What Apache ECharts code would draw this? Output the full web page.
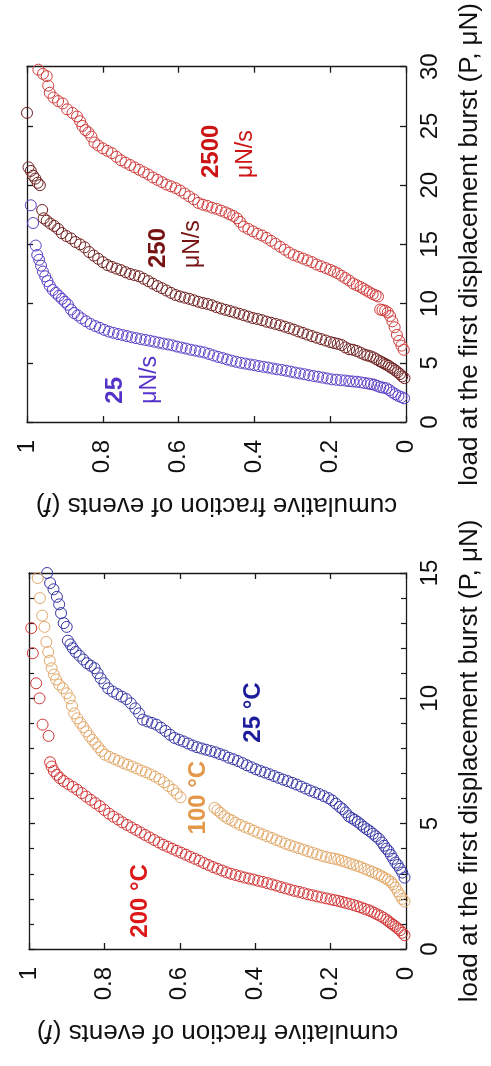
<!DOCTYPE html>
<html><head><meta charset="utf-8">
<script src="https://cdn.jsdelivr.net/npm/echarts@6/dist/echarts.min.js"></script>
<style>html,body{margin:0;padding:0;background:#fff}#c{width:491px;height:1066px}</style>
</head><body><div id="c"></div>
<script>
// ---------- Top panel: loading rate ----------
const frac25uN = [0.005,0.012,0.02,0.028,0.036,0.044,0.052,0.06,0.068,0.076,0.084,0.092,0.1,0.11,0.12,0.13,0.14,0.15,0.16,0.172,0.184,0.196,0.208,0.22,0.232,0.244,0.256,0.268,0.28,0.292,0.304,0.316,0.328,0.34,0.352,0.364,0.376,0.388,0.4,0.412,0.424,0.436,0.448,0.46,0.472,0.484,0.496,0.508,0.52,0.532,0.544,0.556,0.568,0.58,0.592,0.604,0.616,0.628,0.64,0.652,0.664,0.676,0.688,0.7,0.712,0.724,0.736,0.748,0.76,0.772,0.784,0.796,0.808,0.82,0.832,0.844,0.856,0.866,0.876,0.884,0.892,0.9,0.908,0.916,0.924,0.932,0.94,0.946,0.952,0.958,0.963,0.968,0.973,0.977,0.984,0.99];
const load25uN = [2.0,2.1,2.2,2.35,2.5,2.7,2.85,2.9,2.95,3.05,3.15,3.2,3.25,3.3,3.35,3.4,3.42,3.45,3.5,3.53,3.57,3.6,3.68,3.75,3.82,3.88,3.95,4.03,4.1,4.17,4.25,4.33,4.4,4.45,4.52,4.6,4.66,4.72,4.8,4.86,4.93,5.0,5.08,5.18,5.28,5.4,5.5,5.62,5.75,5.87,5.95,6.03,6.1,6.2,6.28,6.37,6.47,6.55,6.62,6.7,6.78,6.86,6.93,7.0,7.08,7.16,7.25,7.34,7.43,7.53,7.63,7.78,7.95,8.1,8.28,8.5,8.75,9.0,9.2,9.5,9.9,10.15,10.4,10.65,10.9,11.15,11.5,11.9,12.3,12.7,13.2,13.7,14.1,14.9,16.8,18.3];

const frac250uN = [0.004,0.01,0.016,0.022,0.028,0.034,0.04,0.046,0.052,0.058,0.064,0.07,0.078,0.086,0.094,0.102,0.11,0.12,0.13,0.14,0.15,0.16,0.17,0.18,0.19,0.2,0.212,0.224,0.236,0.248,0.26,0.272,0.284,0.296,0.308,0.32,0.332,0.344,0.356,0.368,0.38,0.392,0.404,0.416,0.428,0.44,0.452,0.464,0.476,0.488,0.5,0.512,0.524,0.536,0.548,0.56,0.572,0.584,0.596,0.608,0.62,0.632,0.644,0.656,0.668,0.68,0.692,0.704,0.716,0.728,0.74,0.752,0.764,0.776,0.788,0.8,0.812,0.824,0.836,0.848,0.86,0.872,0.884,0.896,0.908,0.918,0.928,0.938,0.948,0.956,0.96,0.966,0.972,0.978,0.984,0.99,0.996,1.0];
const load250uN = [3.7,3.85,4.05,4.2,4.35,4.5,4.6,4.75,4.85,4.95,5.05,5.15,5.3,5.45,5.55,5.62,5.7,5.85,6.0,6.1,6.15,6.3,6.5,6.6,6.67,6.75,6.88,7.0,7.12,7.25,7.38,7.52,7.65,7.8,7.92,8.05,8.17,8.28,8.38,8.47,8.6,8.7,8.78,8.9,9.02,9.14,9.25,9.36,9.47,9.58,9.7,9.85,9.97,10.05,10.15,10.28,10.4,10.5,10.6,10.72,10.9,11.1,11.3,11.48,11.68,11.9,12.1,12.3,12.4,12.5,12.65,12.82,12.95,13.1,13.25,13.5,13.78,14.05,14.35,14.75,15.0,15.2,15.5,15.7,15.95,16.3,16.55,16.75,17.0,17.2,17.9,20.0,20.2,20.55,20.8,21.2,21.5,26.1];

const frac2500uN = [0.006,0.012,0.018,0.024,0.03,0.036,0.042,0.048,0.055,0.062,0.068,0.074,0.08,0.088,0.096,0.104,0.112,0.12,0.13,0.14,0.15,0.16,0.17,0.18,0.19,0.2,0.212,0.224,0.236,0.248,0.26,0.272,0.284,0.296,0.308,0.32,0.332,0.344,0.356,0.368,0.38,0.392,0.404,0.416,0.428,0.438,0.446,0.456,0.466,0.476,0.488,0.5,0.512,0.524,0.536,0.548,0.56,0.572,0.584,0.596,0.608,0.62,0.632,0.644,0.656,0.668,0.68,0.692,0.704,0.716,0.728,0.74,0.752,0.764,0.776,0.788,0.8,0.812,0.822,0.83,0.838,0.846,0.854,0.86,0.868,0.88,0.894,0.906,0.918,0.93,0.94,0.944,0.948,0.958,0.97];
const load2500uN = [6.1,6.45,6.85,7.35,8.0,8.5,8.95,9.25,9.4,9.45,9.5,10.6,10.7,10.8,10.95,11.1,11.25,11.4,11.55,11.7,11.95,12.15,12.35,12.55,12.7,12.85,13.0,13.15,13.3,13.5,13.65,13.8,13.95,14.1,14.3,14.55,14.8,15.05,15.3,15.55,15.75,15.9,16.1,16.3,16.5,16.9,17.2,17.4,17.55,17.7,17.85,18.0,18.1,18.25,18.35,18.5,18.8,19.05,19.3,19.55,19.75,19.9,20.05,20.25,20.45,20.65,20.9,21.1,21.3,21.5,21.7,21.9,22.1,22.4,22.7,22.9,23.1,23.35,23.6,24.1,24.45,24.65,25.0,25.4,25.8,26.1,26.4,26.9,27.1,27.4,27.8,28.4,29.2,29.4,29.75];

// ---------- Bottom panel: temperature ----------
const frac25C = [0.004,0.01,0.016,0.022,0.028,0.034,0.04,0.046,0.052,0.058,0.064,0.072,0.08,0.088,0.096,0.104,0.112,0.12,0.128,0.136,0.144,0.152,0.16,0.168,0.176,0.186,0.196,0.206,0.218,0.23,0.242,0.254,0.266,0.278,0.29,0.302,0.314,0.326,0.338,0.35,0.362,0.374,0.386,0.398,0.41,0.422,0.434,0.446,0.458,0.47,0.482,0.494,0.506,0.518,0.53,0.542,0.554,0.566,0.578,0.59,0.602,0.614,0.626,0.638,0.65,0.662,0.674,0.686,0.698,0.708,0.718,0.73,0.742,0.754,0.766,0.778,0.79,0.8,0.81,0.818,0.826,0.836,0.846,0.856,0.866,0.876,0.884,0.89,0.897,0.9,0.908,0.915,0.92,0.926,0.935,0.944,0.952];
const load25C = [2.85,3.05,3.2,3.35,3.45,3.6,3.75,3.9,4.0,4.12,4.25,4.4,4.5,4.6,4.7,4.78,4.87,4.97,5.07,5.15,5.22,5.3,5.45,5.58,5.67,5.8,5.93,6.02,6.1,6.18,6.25,6.32,6.4,6.48,6.56,6.63,6.7,6.76,6.83,6.9,6.97,7.04,7.1,7.17,7.25,7.33,7.42,7.5,7.57,7.63,7.72,7.78,7.85,7.9,7.95,8.0,8.05,8.12,8.2,8.28,8.35,8.42,8.55,8.7,8.83,8.95,9.02,9.08,9.15,9.4,9.6,9.8,9.97,10.07,10.17,10.27,10.4,10.6,10.8,11.0,11.2,11.3,11.4,11.55,11.7,11.85,12.0,12.15,12.3,12.85,13.0,13.4,13.75,14.05,14.35,14.6,15.0];

const frac100C = [0.004,0.01,0.016,0.022,0.028,0.034,0.04,0.048,0.056,0.064,0.072,0.08,0.09,0.1,0.11,0.12,0.13,0.14,0.15,0.16,0.17,0.18,0.19,0.2,0.212,0.224,0.236,0.248,0.26,0.272,0.284,0.296,0.308,0.32,0.332,0.344,0.356,0.368,0.38,0.392,0.404,0.416,0.428,0.44,0.452,0.462,0.472,0.482,0.492,0.5,0.508,0.598,0.608,0.618,0.63,0.642,0.654,0.666,0.678,0.69,0.702,0.714,0.726,0.738,0.75,0.762,0.774,0.786,0.798,0.808,0.816,0.824,0.832,0.84,0.848,0.856,0.864,0.872,0.88,0.886,0.892,0.9,0.91,0.92,0.928,0.934,0.94,0.945,0.949,0.954,0.959,0.965,0.971,0.977];
const load100C = [1.9,2.0,2.15,2.3,2.45,2.58,2.68,2.76,2.83,2.9,2.96,3.02,3.08,3.14,3.2,3.27,3.32,3.37,3.42,3.47,3.52,3.57,3.6,3.63,3.67,3.72,3.78,3.84,3.9,3.96,4.02,4.08,4.14,4.2,4.28,4.35,4.43,4.5,4.57,4.64,4.72,4.8,4.87,4.95,5.04,5.13,5.2,5.3,5.43,5.53,5.63,6.05,6.2,6.35,6.5,6.65,6.78,6.88,6.97,7.05,7.12,7.2,7.28,7.35,7.42,7.5,7.58,7.66,7.75,7.9,8.05,8.2,8.35,8.5,8.68,8.85,9.02,9.2,9.4,9.7,10.0,10.2,10.4,10.55,10.75,10.95,11.2,11.5,11.85,12.25,12.85,13.3,14.0,14.8];

const frac200C = [0.004,0.01,0.016,0.022,0.028,0.034,0.04,0.046,0.052,0.06,0.068,0.076,0.084,0.092,0.1,0.11,0.12,0.13,0.14,0.15,0.16,0.17,0.18,0.19,0.2,0.212,0.224,0.236,0.248,0.26,0.272,0.284,0.296,0.308,0.32,0.332,0.344,0.356,0.368,0.38,0.392,0.404,0.416,0.428,0.44,0.452,0.464,0.476,0.488,0.5,0.512,0.524,0.536,0.548,0.56,0.572,0.584,0.596,0.608,0.62,0.632,0.644,0.656,0.668,0.68,0.692,0.704,0.716,0.728,0.74,0.752,0.764,0.776,0.788,0.8,0.812,0.824,0.836,0.848,0.86,0.872,0.884,0.896,0.908,0.918,0.926,0.934,0.94,0.944,0.948,0.964,0.972,0.981,0.99,0.994];
const load200C = [0.55,0.65,0.75,0.82,0.9,0.96,1.03,1.1,1.17,1.25,1.32,1.38,1.44,1.5,1.55,1.6,1.66,1.71,1.76,1.8,1.84,1.88,1.92,1.95,1.98,2.02,2.06,2.1,2.14,2.18,2.23,2.28,2.32,2.37,2.42,2.47,2.53,2.58,2.63,2.68,2.72,2.77,2.81,2.85,2.9,2.95,3.0,3.06,3.13,3.2,3.27,3.35,3.43,3.52,3.6,3.68,3.76,3.84,3.92,4.0,4.08,4.16,4.25,4.35,4.45,4.55,4.65,4.75,4.85,4.95,5.05,5.17,5.28,5.4,5.55,5.7,5.82,5.95,6.08,6.22,6.35,6.47,6.58,6.7,6.82,6.95,7.1,7.28,7.45,8.5,8.95,10.0,10.6,11.8,12.8];

// axis ranges / labels
const fracRange = {min: 0, max: 1, interval: 0.2};
const loadRangeTop = {min: 0, max: 30, interval: 5};
const loadRangeBottom = {min: 0, max: 15, interval: 5};
const fracTitle = 'cumulative fraction of events ({i|f})';
const loadTitle = 'load at the first displacement burst (P, μN)';
const labelsTop = [
  {text: '{b|2500}\n{n|μN/s}', f: 0.468, P: 20.6, color: '#cc1414'},
  {text: '{b|250}\n{n|μN/s}', f: 0.608, P: 13.0, color: '#761212'},
  {text: '{b|25}\n{n|μN/s}', f: 0.722, P: 1.55, color: '#5533c8'}
];
const labelsBottom = [
  {text: '{b|200 °C}', f: 0.705, P: 0.45, color: '#dd1818'},
  {text: '{b|100 °C}', f: 0.552, P: 4.57, color: '#e3984a'},
  {text: '{b|25 °C}', f: 0.406, P: 8.23, color: '#1c1c9c'}
];

const FONT = '"Liberation Sans", Arial, sans-serif';
const AX = '#1a1a1a';

function fracAxis(gridIndex, position, main) {
  return {
    type: 'value', gridIndex, position, inverse: true,
    min: fracRange.min, max: fracRange.max, interval: fracRange.interval,
    axisLine: {show: true, onZero: false, lineStyle: {color: AX, width: 1.3}},
    axisTick: {show: true, inside: true, length: 6, lineStyle: {color: AX, width: 1.3}},
    axisLabel: {show: main, rotate: 90, margin: 18, fontSize: 24, fontFamily: FONT, color: '#111'},
    splitLine: {show: false},
    name: main ? fracTitle : '', nameLocation: 'middle', nameGap: 70, nameRotate: 180,
    nameTextStyle: {fontSize: 26, fontFamily: FONT, color: '#111',
      rich: {i: {fontStyle: 'italic', fontSize: 26, fontFamily: FONT, color: '#111'}}}
  };
}
function loadAxis(gridIndex, position, main, range, minor) {
  return {
    type: 'value', gridIndex, position,
    min: range.min, max: range.max, interval: range.interval,
    axisLine: {show: true, onZero: false, lineStyle: {color: AX, width: 1.3}},
    axisTick: {show: true, inside: true, length: 6, lineStyle: {color: AX, width: 1.3}},
    minorTick: {show: minor, splitNumber: 5, length: 5, lineStyle: {color: AX, width: 1.2}},
    axisLabel: {show: main, rotate: 90, margin: 12, fontSize: 24, fontFamily: FONT, color: '#111'},
    splitLine: {show: false}, minorSplitLine: {show: false},
    name: main ? loadTitle : '', nameLocation: 'middle', nameGap: 51, nameRotate: 90,
    nameTextStyle: {fontSize: 26, fontFamily: FONT, color: '#111'}
  };
}
function pairs(fr, ld) { return fr.map((f, i) => [f, ld[i]]); }
function scat(name, fr, ld, color, xi, yi) {
  return {
    type: 'scatter', name, xAxisIndex: xi, yAxisIndex: yi,
    data: pairs(fr, ld), symbol: 'circle', symbolSize: 11,
    itemStyle: {color: 'rgba(255,255,255,0)', borderColor: color, borderWidth: 1, opacity: 1},
    emphasis: {disabled: true}, silent: true
  };
}

const chart = echarts.init(document.getElementById('c'));
chart.setOption({
  animation: false,
  backgroundColor: '#fff',
  grid: [
    {left: 27, top: 42, width: 391, height: 380},
    {left: 29, top: 573, width: 385, height: 376}
  ],
  xAxis: [fracAxis(0, 'bottom', true), fracAxis(0, 'top', false), fracAxis(1, 'bottom', true), fracAxis(1, 'top', false)],
  yAxis: [loadAxis(0, 'right', true, loadRangeTop, false), loadAxis(0, 'left', false, loadRangeTop, false),
          loadAxis(1, 'right', true, loadRangeBottom, true), loadAxis(1, 'left', false, loadRangeBottom, true)],
  series: [
    scat('25 μN/s', frac25uN, load25uN, '#5a40c8', 0, 0),
    scat('250 μN/s', frac250uN, load250uN, '#6e1e1e', 0, 0),
    scat('2500 μN/s', frac2500uN, load2500uN, '#d03c3c', 0, 0),
    scat('25 °C', frac25C, load25C, '#3636a6', 2, 2),
    scat('100 °C', frac100C, load100C, '#e2a868', 2, 2),
    scat('200 °C', frac200C, load200C, '#d23434', 2, 2)
  ]
});

function annot(list, axIdx) {
  return list.map(a => {
    const p = chart.convertToPixel({xAxisIndex: axIdx, yAxisIndex: axIdx}, [a.f, a.P]);
    return {
      type: 'text', x: p[0], y: p[1], rotation: Math.PI / 2, silent: true,
      style: {
        text: a.text, align: 'left', verticalAlign: 'middle', fill: a.color,
        rich: {
          b: {fontSize: 24, fontWeight: 'bold', fontFamily: FONT, fill: a.color, lineHeight: 34},
          n: {fontSize: 23, fontFamily: FONT, fill: a.color, lineHeight: 34}
        }
      }
    };
  });
}
chart.setOption({graphic: annot(labelsTop, 0).concat(annot(labelsBottom, 2))});
</script></body></html>
